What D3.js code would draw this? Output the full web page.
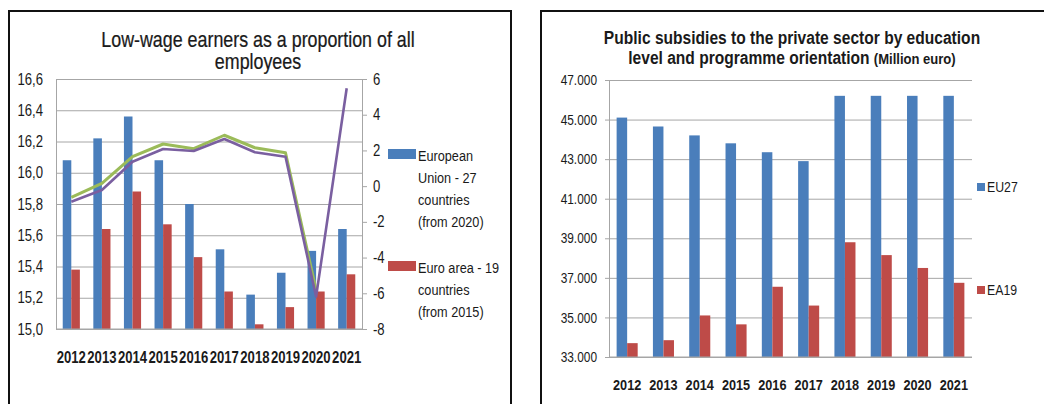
<!DOCTYPE html>
<html><head><meta charset="utf-8">
<script src="https://cdn.jsdelivr.net/npm/d3@7/dist/d3.min.js"></script>
<style>
html,body{margin:0;padding:0;background:#fff;}
svg{display:block;font-family:"Liberation Sans",Arial,sans-serif;}
</style></head>
<body><svg id="c" width="1044" height="404"></svg>
<script>
// ---------- data ----------
const years = ["2012","2013","2014","2015","2016","2017","2018","2019","2020","2021"];
const lowWageEU27 = [16.08,16.22,16.36,16.08,15.80,15.51,15.22,15.36,15.50,15.64];
const lowWageEA19 = [15.38,15.64,15.88,15.67,15.46,15.24,15.03,15.14,15.24,15.35];
const lineGreen  = [-0.63,0.16,1.65,2.36,2.10,2.85,2.15,1.87,-5.82];
const linePurple = [-0.87,-0.22,1.37,2.08,1.97,2.64,1.90,1.65,-6.19,5.48];
const leftTicks  = [15.0,15.2,15.4,15.6,15.8,16.0,16.2,16.4,16.6];
const rightTicks = [-8,-6,-4,-2,0,2,4,6];
const subsidiesEU27 = [45100,44650,44200,43800,43350,42900,46200,46200,46200,46200];
const subsidiesEA19 = [33700,33850,35100,34650,36550,35600,38800,38150,37500,36750];
const subsidyTicks  = [33000,35000,37000,39000,41000,43000,45000,47000];

const BLUE="#4a7ebb", RED="#be4b48", GREEN="#9bbb59", PURPLE="#7a5fa0", GRID="#a6a6a6", TXT="#1a1a1a";
const svg = d3.select("#c");

// condense text horizontally (narrow face is not installed)
function narrow(sel, k){
  k = k || 0.82;
  sel.each(function(){
    const el = d3.select(this);
    let cx = el.attr("x");
    if (cx == null){ const ts = el.select("tspan"); cx = ts.empty() ? 0 : ts.attr("x"); }
    cx = +cx || 0;
    el.attr("transform", `translate(${cx},0) scale(${k},1) translate(${-cx},0)`);
  });
}

// ---------- panel frames ----------
svg.append("rect").attr("x",9).attr("y",11).attr("width",502).attr("height",430)
  .attr("fill","none").attr("stroke","#111").attr("stroke-width",2);
svg.append("rect").attr("x",541).attr("y",11).attr("width",520).attr("height",430)
  .attr("fill","none").attr("stroke","#111").attr("stroke-width",2);

// ---------- LEFT CHART ----------
{
  const x0=56, x1=362, yT=79, yB=329;
  const x = d3.scaleBand().domain(years).range([x0,x1]);
  const yL = d3.scaleLinear().domain([15.0,16.6]).range([yB,yT]);
  const yR = d3.scaleLinear().domain([-8,6]).range([yB,yT]);
  const g = svg.append("g");
  g.append("g").attr("transform",`translate(${x0},0)`)
    .call(d3.axisLeft(yL).tickValues(leftTicks).tickSize(-(x1-x0)).tickFormat(""))
    .call(s=>{s.select(".domain").attr("stroke",GRID);s.selectAll(".tick line").attr("stroke",GRID);});
  g.append("g").attr("transform",`translate(${x1},0)`)
    .call(d3.axisRight(yR).tickValues(rightTicks).tickSize(5).tickPadding(6).tickFormat(d=>String(d)))
    .call(s=>{s.select(".domain").attr("stroke",GRID);s.selectAll(".tick line").attr("stroke",GRID);
      s.selectAll("text").attr("font-size",16).attr("fill",TXT).attr("font-family",null).call(narrow);});
  g.append("g").attr("transform",`translate(43,0)`)
    .call(d3.axisLeft(yL).tickValues(leftTicks).tickSize(0).tickPadding(0).tickFormat(d=>d3.format(".1f")(d).replace(".",",")))
    .call(s=>{s.select(".domain").remove();
      s.selectAll("text").attr("font-size",16).attr("fill",TXT).attr("font-family",null).call(narrow);});
  const bw = x.bandwidth()*0.28;
  g.selectAll(".b1").data(years).join("rect")
    .attr("x",d=>x(d)+x.bandwidth()/2-bw).attr("width",bw)
    .attr("y",(d,i)=>yL(lowWageEU27[i])).attr("height",(d,i)=>yB-yL(lowWageEU27[i])).attr("fill",BLUE);
  g.selectAll(".b2").data(years).join("rect")
    .attr("x",d=>x(d)+x.bandwidth()/2).attr("width",bw)
    .attr("y",(d,i)=>yL(lowWageEA19[i])).attr("height",(d,i)=>yB-yL(lowWageEA19[i])).attr("fill",RED);
  g.append("line").attr("x1",x0).attr("x2",x1).attr("y1",yB).attr("y2",yB).attr("stroke",GRID);
  const ln = d3.line().x(d=>x(d[0])+x.bandwidth()/2).y(d=>yR(d[1]));
  g.append("path").attr("d",ln(lineGreen.map((v,i)=>[years[i],v]))).attr("fill","none")
    .attr("stroke",GREEN).attr("stroke-width",3).attr("stroke-linejoin","round");
  g.append("path").attr("d",ln(linePurple.map((v,i)=>[years[i],v]))).attr("fill","none")
    .attr("stroke",PURPLE).attr("stroke-width",2.6).attr("stroke-linejoin","round");
  g.selectAll(".xl").data(years).join("text")
    .attr("x",d=>x(d)+x.bandwidth()/2).attr("y",363).attr("text-anchor","middle")
    .attr("font-size",16).attr("font-weight","bold").attr("fill",TXT).text(d=>d).call(narrow);
  g.append("text").attr("x",258).attr("y",47).attr("text-anchor","middle").attr("font-size",21.5)
    .attr("fill",TXT).attr("stroke",TXT).attr("stroke-width",0.25)
    .text("Low-wage earners as a proportion of all").call(narrow, 0.83);
  g.append("text").attr("x",258).attr("y",69).attr("text-anchor","middle").attr("font-size",21.5)
    .attr("fill",TXT).attr("stroke",TXT).attr("stroke-width",0.25)
    .text("employees").call(narrow, 0.83);
  const leg = [{c:BLUE,y:149,lines:["European","Union - 27","countries","(from 2020)"]},
               {c:RED,y:261,lines:["Euro area - 19","countries","(from 2015)"]}];
  leg.forEach(L=>{
    g.append("rect").attr("x",388).attr("y",L.y).attr("width",28).attr("height",10).attr("fill",L.c);
    const tx = g.append("text").attr("font-size",15.5).attr("fill",TXT);
    L.lines.forEach((s,i)=>tx.append("tspan").attr("x",418).attr("y",L.y+12+i*22).text(s));
    tx.call(narrow);
  });
}

// ---------- RIGHT CHART ----------
{
  const x0=609, x1=972, yT=80, yB=357;
  const x = d3.scaleBand().domain(years).range([x0,x1]);
  const y = d3.scaleLinear().domain([33000,47000]).range([yB,yT]);
  const g = svg.append("g");
  g.append("g").attr("transform",`translate(${x0},0)`)
    .call(d3.axisLeft(y).tickValues(subsidyTicks).tickSizeInner(-(x1-x0)).tickSizeOuter(0).tickFormat(""))
    .call(s=>{s.select(".domain").attr("stroke",GRID);s.selectAll(".tick line").attr("stroke",GRID);});
  g.append("g").attr("transform",`translate(${x0},0)`)
    .call(d3.axisLeft(y).tickValues(subsidyTicks).tickSize(4).tickPadding(8)
      .tickFormat(d=>d3.format(",")(d).replace(",",".")))
    .call(s=>{s.select(".domain").remove();s.selectAll(".tick line").attr("stroke",GRID);
      s.selectAll("text").attr("font-size",14.5).attr("fill",TXT).attr("font-family",null).call(narrow);});
  const bw = x.bandwidth()*0.29;
  g.selectAll(".b1").data(years).join("rect")
    .attr("x",d=>x(d)+x.bandwidth()/2-bw).attr("width",bw)
    .attr("y",(d,i)=>y(subsidiesEU27[i])).attr("height",(d,i)=>yB-y(subsidiesEU27[i])).attr("fill",BLUE);
  g.selectAll(".b2").data(years).join("rect")
    .attr("x",d=>x(d)+x.bandwidth()/2).attr("width",bw)
    .attr("y",(d,i)=>y(subsidiesEA19[i])).attr("height",(d,i)=>yB-y(subsidiesEA19[i])).attr("fill",RED);
  g.append("line").attr("x1",x0).attr("x2",x1).attr("y1",yB).attr("y2",yB).attr("stroke",GRID);
  g.selectAll(".xl").data(years).join("text")
    .attr("x",d=>x(d)+x.bandwidth()/2).attr("y",390).attr("text-anchor","middle")
    .attr("font-size",15.5).attr("font-weight","bold").attr("fill",TXT).text(d=>d).call(narrow);
  g.append("text").attr("x",792).attr("y",44).attr("text-anchor","middle").attr("font-weight","bold")
    .attr("font-size",19).attr("fill",TXT).text("Public subsidies to the private sector by education").call(narrow);
  // second title line: measured so both parts sit centred with a small gap
  const a = g.append("text").attr("y",64).attr("font-weight","bold").attr("font-size",19).attr("fill",TXT)
    .text("level and programme orientation");
  const b = g.append("text").attr("y",64).attr("font-weight","bold").attr("font-size",14.5).attr("fill",TXT)
    .text("(Million euro)");
  const wa = a.node().getComputedTextLength()*0.82, wb = b.node().getComputedTextLength()*0.9, gap = 4;
  const start = 792 - (wa+gap+wb)/2;
  a.attr("x",start).call(narrow, 0.82);
  b.attr("x",start+wa+gap).call(narrow, 0.9);
  [{c:BLUE,y:183,s:"EU27"},{c:RED,y:286,s:"EA19"}].forEach(L=>{
    g.append("rect").attr("x",977).attr("y",L.y).attr("width",8).attr("height",8).attr("fill",L.c);
    g.append("text").attr("x",987).attr("y",L.y+9.5).attr("font-size",15).attr("fill",TXT).text(L.s).call(narrow);
  });
}
</script></body></html>
